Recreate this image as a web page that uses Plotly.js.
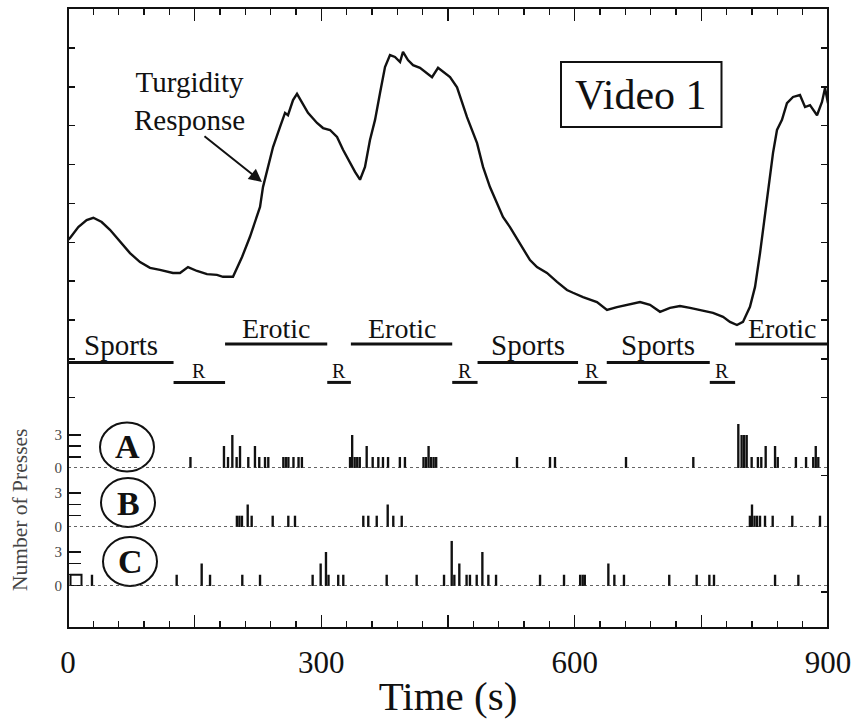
<!DOCTYPE html>
<html><head><meta charset="utf-8">
<script src="https://cdn.plot.ly/plotly-3.0.1.min.js"></script>
<style>body{margin:0;background:#fff}#chart{width:858px;height:722px}</style>
</head><body><div id="chart"></div>
<script>
// ---- turgidity response curve ----
const timeS = [0, 2.4, 12.2, 22.1, 30.0, 39.9, 49.7, 61.6, 73.4, 85.3,
  97.1, 108.9, 124.3, 132.6, 142.1, 152.8, 164.6, 176.4, 183.5, 195.4,
  206.1, 215.5, 227.4, 230.9, 236.8, 242.8, 251.1, 257.0, 260.5, 266.5,
  271.2, 277.1, 284.2, 294.9, 302.0, 310.3, 318.6, 325.7, 333.9, 339.9,
  345.8, 351.7, 357.6, 363.6, 369.5, 375.4, 381.3, 387.2, 393.2, 396.7,
  402.6, 408.6, 416.8, 425.1, 431.1, 438.2, 446.5, 452.4, 460.7, 472.5,
  484.4, 491.5, 499.7, 508.0, 515.1, 523.4, 535.3, 547.1, 555.4, 567.2,
  579.1, 590.9, 598.0, 609.9, 626.4, 638.3, 650.1, 662.0, 677.4, 689.2,
  701.1, 712.9, 724.7, 736.6, 748.4, 763.8, 775.7, 783.9, 792.2, 799.3,
  807.6, 813.6, 819.5, 825.4, 831.3, 834.9, 839.6, 845.5, 851.4, 858.6,
  866.8, 872.8, 878.7, 887.0, 892.9, 896.5, 900];
const turgidity = [10.06, 10.11, 10.39, 10.57, 10.63, 10.52, 10.32, 10.01, 9.72, 9.49,
  9.34, 9.29, 9.21, 9.21, 9.36, 9.26, 9.18, 9.16, 9.11, 9.11,
  9.62, 10.14, 10.91, 11.42, 11.94, 12.45, 12.97, 13.33, 13.27, 13.66,
  13.82, 13.61, 13.33, 13.07, 12.94, 12.89, 12.71, 12.38, 12.04, 11.81,
  11.61, 11.94, 12.63, 13.15, 13.84, 14.51, 14.82, 14.77, 14.64, 14.90,
  14.69, 14.56, 14.49, 14.36, 14.25, 14.49, 14.36, 14.25, 13.99, 13.22,
  12.55, 11.94, 11.42, 11.01, 10.65, 10.39, 9.98, 9.54, 9.36, 9.21,
  8.98, 8.77, 8.70, 8.59, 8.46, 8.26, 8.33, 8.39, 8.46, 8.39,
  8.21, 8.31, 8.36, 8.31, 8.26, 8.18, 8.08, 7.95, 7.87, 7.95,
  8.34, 8.85, 9.72, 10.75, 11.78, 12.30, 12.89, 13.15, 13.58, 13.74,
  13.79, 13.48, 13.53, 13.27, 13.61, 13.97, 13.58];

// ---- video segments ----
const segLabels = ['Sports','R','Erotic','R','Erotic','R','Sports','R','Sports','R','Erotic'];
const segStart  = [0, 125, 186, 307, 335, 455, 485, 604, 638, 760, 790];
const segEnd    = [125, 186, 307, 335, 455, 485, 604, 638, 760, 790, 900];

// ---- button presses ----
const pressA_t = [145, 184.7, 189.5, 194.6, 199.7, 203.7, 213.5, 221.4, 226.5, 233.3,
  237.2, 255, 258, 261, 267, 273, 277, 334, 336.5, 339.5,
  342.5, 345.5, 353.7, 360.8, 367.5, 373, 379, 393, 399, 421,
  424, 427, 430, 433, 436, 531.7, 570.8, 576.7, 660.8, 740.5,
  793.8, 797.7, 800.7, 803.7, 809.6, 817, 821, 826.2, 837.3, 840.5,
  862, 874, 882.5, 885.5, 888.5];
const pressA_n = [1, 2, 1, 3, 1, 2, 1, 2, 1, 1,
  1, 1, 1, 1, 1, 1, 1, 1, 3, 1,
  1, 1, 2, 1, 1, 1, 1, 1, 1, 1,
  1, 2, 1, 1, 1, 1, 1, 1, 1, 1,
  4, 3, 3, 3, 1, 1, 1, 2, 2, 1,
  1, 1, 1, 2, 1];
const pressB_t = [200, 203, 206, 212.8, 217.5, 242.4, 260.9, 268.8, 349.7, 355.6,
  365.6, 378.6, 385.2, 395.2, 807.5, 810, 813, 816, 819.5, 825.4,
  834.5, 857.7, 890.5];
const pressB_n = [1, 1, 1, 2, 1, 1, 1, 1, 1, 1,
  1, 2, 1, 1, 1, 2, 1, 1, 1, 1,
  1, 1, 1];
const pressC_t = [28.4, 128.7, 158.3, 168.2, 206.4, 227.4, 289.7, 299.2, 305.5, 308.5,
  320, 326, 377.4, 412.9, 445.3, 454.4, 457.5, 463.4, 472, 476,
  484, 490.7, 497.8, 506.9, 559, 587.4, 606.5, 609.5, 612, 639.9,
  647, 658.4, 712, 744.5, 759.5, 765, 837.3, 864.9];
const pressC_n = [1, 1, 2, 1, 1, 1, 1, 2, 3, 1,
  1, 1, 1, 1, 1, 4, 1, 2, 1, 1,
  1, 3, 1, 1, 1, 1, 1, 1, 1, 2,
  1, 1, 1, 1, 1, 1, 1, 1];
const pressC_box_t = [9.5];
const pressC_box_n = [1];

// ---- ticks ----
const xTickVals = [0, 150, 300, 450, 600, 750, 900];
const xTickText = ['0', '', '300', '', '600', '', '900'];
const pressTickVals = [0, 1, 2, 3, 4];
const pressTickText = ['0', '', '', '3', ''];
const leftTurgTicks = [6, 7, 8, 9, 10, 11, 12, 13, 14, 15];
const rightTurgTicks = [1, 2, 3, 4, 5, 6, 7, 8, 9, 10, 11, 12, 13, 14, 15];
const panelLetters = ['A', 'B', 'C'];

// ---- layout helpers (pixel -> paper) ----
const L = 68, R = 828, T = 8, B = 628;
const px = v => (v - L) / (R - L);
const py = v => (B - v) / (B - T);
const SERIF = '"Liberation Serif", "Times New Roman", serif';
const INK = '#111';

const segLevel = {Sports: 6.907, Erotic: 7.38, R: 6.392};
const segShift = {Sports: 17, Erotic: 16, R: 11};
const segFont = {Sports: 29, Erotic: 28, R: 20};

const traces = [];
traces.push({x: timeS, y: turgidity, type: 'scatter', mode: 'lines',
  line: {color: INK, width: 2.4}, xaxis: 'x', yaxis: 'y', hoverinfo: 'skip'});

segLabels.forEach((s, i) => {
  traces.push({x: [segStart[i], segEnd[i]], y: [segLevel[s], segLevel[s]],
    type: 'scatter', mode: 'lines', line: {color: INK, width: 3},
    xaxis: 'x', yaxis: 'y', hoverinfo: 'skip'});
});

const barStyle = {type: 'bar', width: 2.8, marker: {color: INK, line: {width: 0}}, xaxis: 'x', hoverinfo: 'skip'};
traces.push(Object.assign({}, barStyle, {x: pressA_t, y: pressA_n, yaxis: 'y2'}));
traces.push(Object.assign({}, barStyle, {x: pressB_t, y: pressB_n, yaxis: 'y3'}));
traces.push(Object.assign({}, barStyle, {x: pressC_t, y: pressC_n, yaxis: 'y4'}));
traces.push({type: 'bar', x: pressC_box_t, y: pressC_box_n, width: 13, yaxis: 'y4', xaxis: 'x',
  marker: {color: 'rgba(255,255,255,0)', line: {color: INK, width: 2}}, hoverinfo: 'skip'});
// dummy trace for the right-hand tick axis
traces.push({x: [0], y: [8], type: 'scatter', mode: 'lines', yaxis: 'y5', xaxis: 'x',
  line: {color: 'rgba(0,0,0,0)'}, hoverinfo: 'skip'});

const turgRange = [0.07, 16.03];
const panelAxis = (domain) => ({
  domain: domain, range: [0, 4], anchor: 'x', side: 'left',
  tickmode: 'array', tickvals: pressTickVals, ticktext: pressTickText,
  ticks: 'inside', ticklen: 13, tickwidth: 1.5, tickcolor: INK,
  tickfont: {family: SERIF, size: 15, color: '#444'}, ticklabelstandoff: 5,
  showgrid: false, zeroline: false, showline: false, fixedrange: true
});

const annotations = [];
segLabels.forEach((s, i) => {
  annotations.push({x: (segStart[i] + segEnd[i]) / 2, y: segLevel[s], xref: 'x', yref: 'y',
    text: s, showarrow: false, xanchor: 'center', yanchor: 'middle', yshift: segShift[s],
    font: {family: SERIF, size: segFont[s], color: INK}});
});
const paperNote = (xp, yp, text, size, extra) => Object.assign({
  x: px(xp), y: py(yp), xref: 'paper', yref: 'paper', text: text, showarrow: false,
  xanchor: 'center', yanchor: 'middle', font: {family: SERIF, size: size, color: INK}}, extra || {});
annotations.push(paperNote(641, 95, 'Video 1', 42));
annotations.push(paperNote(189, 101, 'Turgidity<br>Response', 29, {align: 'center'}));
annotations.push({x: 229.7, y: 11.55, xref: 'x', yref: 'y', text: '', showarrow: true,
  ax: -59, ay: -47, arrowhead: 2, arrowsize: 1.3, arrowwidth: 2, arrowcolor: INK, standoff: 0});
annotations.push(paperNote(20, 510, 'Number of Presses', 21.5,
  {textangle: -90, font: {family: SERIF, size: 21.5, color: '#444'}}));

const circles = [
  [100, 154, 471.5, 422.5, 127, 447],
  [101, 155, 527, 478, 128, 503],
  [103, 157, 586, 537, 130, 561.5]
];
const shapes = [];
circles.forEach((c, i) => {
  shapes.push({type: 'circle', xref: 'paper', yref: 'paper', x0: px(c[0]), x1: px(c[1]),
    y0: py(c[2]), y1: py(c[3]), line: {color: INK, width: 2}});
  annotations.push(paperNote(c[4], c[5], '<b>' + panelLetters[i] + '</b>', 34));
});
['y2', 'y3', 'y4'].forEach(yr => {
  shapes.push({type: 'line', xref: 'x', yref: yr, x0: 0, x1: 900, y0: 0, y1: 0,
    line: {color: '#333', width: 1.5, dash: 'dot'}});
});
shapes.push({type: 'rect', xref: 'paper', yref: 'paper', x0: px(561), x1: px(721.5),
  y0: py(127), y1: py(62), line: {color: INK, width: 2}});
shapes.push({type: 'rect', xref: 'paper', yref: 'paper', x0: 0, x1: 1, y0: 0, y1: 1,
  line: {color: INK, width: 2}});

const layout = {
  width: 858, height: 722, margin: {l: L, r: 858 - R, t: T, b: 722 - B},
  paper_bgcolor: '#fff', plot_bgcolor: '#fff', showlegend: false, hovermode: false,
  barmode: 'overlay',
  font: {family: SERIF, color: INK},
  xaxis: {range: [0, 900], domain: [0, 1], anchor: 'y',
    tickmode: 'array', tickvals: xTickVals, ticktext: xTickText,
    ticks: 'inside', ticklen: 13, tickwidth: 1.5, tickcolor: INK, mirror: 'ticks',
    minor: {tickmode: 'linear', tick0: 0, dtick: 30, ticks: 'inside', ticklen: 7, tickwidth: 1.5, tickcolor: INK},
    tickfont: {family: SERIF, size: 31, color: INK}, ticklabelstandoff: 13,
    showgrid: false, zeroline: false, showline: false, fixedrange: true,
    title: {text: 'Time (s)', font: {family: SERIF, size: 41, color: INK}, standoff: 2}},
  yaxis: {range: turgRange, domain: [0, 1], anchor: 'x', side: 'left',
    tickmode: 'array', tickvals: leftTurgTicks, ticks: 'inside', ticklen: 7, tickwidth: 1.5,
    tickcolor: INK, showticklabels: false, showgrid: false, zeroline: false, showline: false, fixedrange: true},
  yaxis5: {range: turgRange, overlaying: 'y', anchor: 'x', side: 'right',
    tickmode: 'array', tickvals: rightTurgTicks, ticks: 'inside', ticklen: 7, tickwidth: 1.5,
    tickcolor: INK, showticklabels: false, showgrid: false, zeroline: false, showline: false, fixedrange: true},
  yaxis2: panelAxis([py(468), py(424)]),
  yaxis3: panelAxis([py(527), py(481.8)]),
  yaxis4: panelAxis([py(586), py(540.8)]),
  shapes: shapes,
  annotations: annotations
};

Plotly.newPlot('chart', traces, layout, {displayModeBar: false, staticPlot: true});
</script>
</body></html>
